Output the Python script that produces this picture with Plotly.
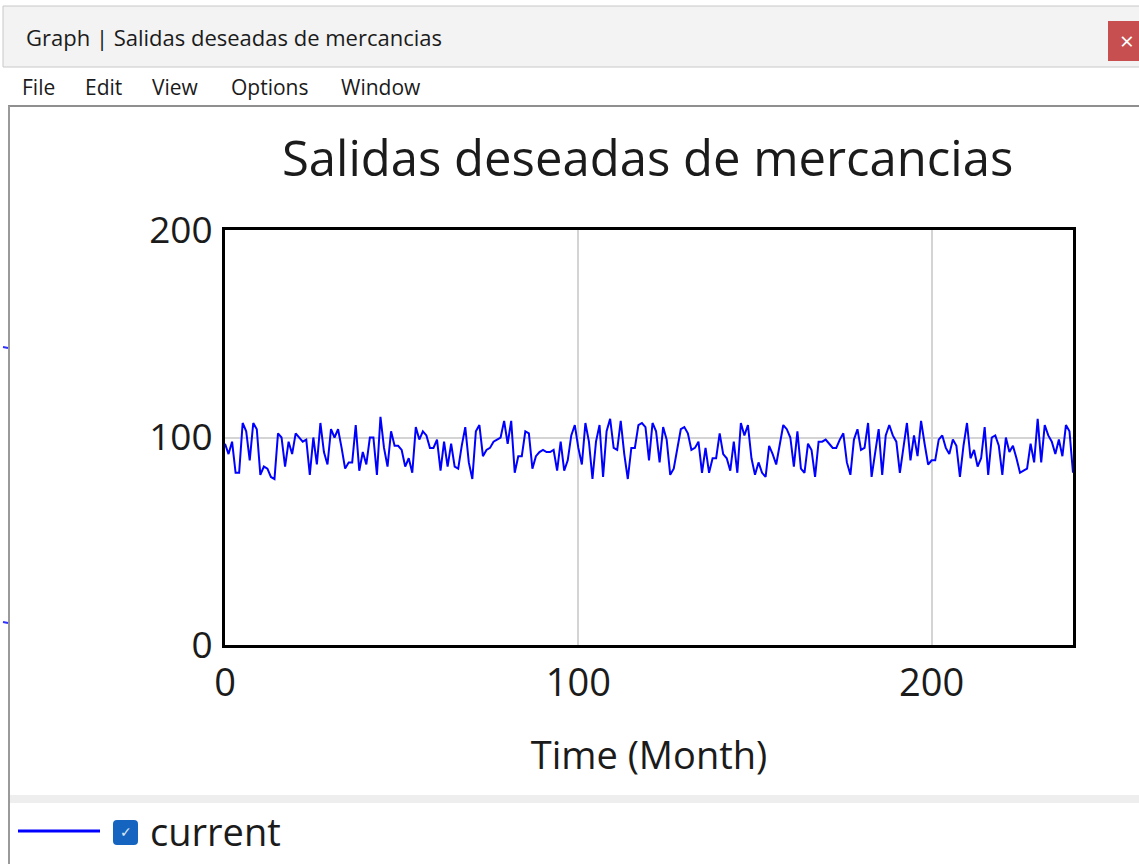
import plotly.graph_objects as go

# Monthly values of "Salidas deseadas de mercancias", months 0..240
months = list(range(0, 241))
salidas = [
    97, 92, 98, 83, 83, 107, 103, 89, 107, 104,
    82, 86, 85, 81, 80, 102, 100, 86, 98, 92,
    102, 100, 98, 99, 82, 100, 87, 107, 93, 87,
    104, 100, 104, 95, 85, 88, 88, 106, 84, 93,
    87, 100, 100, 82, 110, 95, 86, 103, 96, 96,
    94, 86, 90, 83, 105, 99, 103, 101, 95, 95,
    99, 84, 98, 86, 97, 86, 85, 96, 105, 88,
    80, 103, 106, 91, 94, 95, 98, 99, 100, 108,
    97, 108, 83, 91, 91, 103, 102, 85, 91, 93,
    94, 93, 93, 94, 84, 98, 84, 89, 101, 106,
    95, 87, 107, 98, 80, 98, 106, 81, 103, 109,
    95, 94, 108, 92, 80, 95, 95, 106, 107, 105,
    89, 107, 103, 88, 105, 99, 82, 85, 95, 104,
    105, 102, 94, 95, 98, 83, 95, 83, 90, 90,
    102, 92, 90, 84, 98, 83, 107, 101, 106, 90,
    82, 88, 83, 81, 96, 92, 87, 97, 106, 104,
    100, 86, 103, 85, 83, 97, 94, 81, 98, 98,
    99, 97, 95, 95, 99, 102, 88, 82, 99, 104,
    94, 95, 107, 81, 92, 104, 82, 101, 106, 101,
    98, 83, 95, 107, 89, 101, 91, 108, 97, 87,
    89, 89, 99, 101, 95, 92, 99, 96, 81, 96,
    107, 90, 94, 86, 90, 105, 82, 100, 101, 96,
    82, 100, 93, 96, 90, 83, 84, 85, 97, 88,
    109, 88, 106, 101, 98, 92, 99, 91, 106, 103,
    83,
]
x_ticks = [0, 100, 200]
y_ticks = [0, 100, 200]
series_name = "current"
chart_title = "Salidas deseadas de mercancias"
window_title = "Graph | Salidas deseadas de mercancias"
menu_items = ["File", "Edit", "View", "Options", "Window"]
menu_x = [22, 85, 152, 231, 341]

W, H = 1139, 864
L, R, T, B = 225, 1073, 230, 645
FONT = "Open Sans"


def px(x):
    return (x - L) / (R - L)


def py(y):
    return 1 - (y - T) / (B - T)


fig = go.Figure()
fig.add_trace(go.Scatter(
    x=months, y=salidas, mode="lines",
    line=dict(color="#0000ff", width=2),
    name=series_name, showlegend=False, hoverinfo="skip",
))

shapes = []
annotations = []

# window title bar
shapes.append(dict(type="rect", xref="paper", yref="paper",
                   x0=px(3), x1=px(1145), y0=py(6), y1=py(67),
                   fillcolor="#f3f3f3", line=dict(color="#c8c8c8", width=1), layer="below"))
# close button
shapes.append(dict(type="rect", xref="paper", yref="paper",
                   x0=px(1108), x1=px(1145), y0=py(21), y1=py(61),
                   fillcolor="#c84f4f", line=dict(width=0), layer="below"))
annotations.append(dict(x=px(1127), y=py(41), xref="paper", yref="paper",
                        text="×", showarrow=False, xanchor="center", yanchor="middle",
                        font=dict(family=FONT, size=24, color="white")))
annotations.append(dict(x=px(24), y=py(37), xref="paper", yref="paper",
                        text=window_title, showarrow=False, xanchor="left", yanchor="middle",
                        font=dict(family=FONT, size=22, color="#1b1b1b")))
# menu bar
for label, mx in zip(menu_items, menu_x):
    annotations.append(dict(x=px(mx - 2), y=py(87), xref="paper", yref="paper",
                            text=label, showarrow=False, xanchor="left", yanchor="middle",
                            font=dict(family=FONT, size=21, color="#1b1b1b")))
# frame of the client area
shapes.append(dict(type="line", xref="paper", yref="paper",
                   x0=px(8), x1=px(1145), y0=py(106), y1=py(106),
                   line=dict(color="#8f8f8f", width=2)))
shapes.append(dict(type="line", xref="paper", yref="paper",
                   x0=px(9), x1=px(9), y0=py(106), y1=py(870),
                   line=dict(color="#9a9a9a", width=2)))
# small marks left of the frame
for my in (347, 622):
    shapes.append(dict(type="line", xref="paper", yref="paper",
                       x0=px(3), x1=px(8), y0=py(my), y1=py(my + 1),
                       line=dict(color="#3030ff", width=2)))

# legend strip
shapes.append(dict(type="rect", xref="paper", yref="paper",
                   x0=px(10), x1=px(1145), y0=py(795), y1=py(803),
                   fillcolor="#eeeeee", line=dict(width=0), layer="below"))
shapes.append(dict(type="line", xref="paper", yref="paper",
                   x0=px(18), x1=px(100), y0=py(831), y1=py(831),
                   line=dict(color="#0000ff", width=3)))
shapes.append(dict(type="path", xref="paper", yref="paper",
                   path=(f"M {px(117)},{py(820)} L {px(134)},{py(820)} "
                         f"Q {px(138)},{py(820)} {px(138)},{py(824)} L {px(138)},{py(841)} "
                         f"Q {px(138)},{py(845)} {px(134)},{py(845)} L {px(117)},{py(845)} "
                         f"Q {px(113)},{py(845)} {px(113)},{py(841)} L {px(113)},{py(824)} "
                         f"Q {px(113)},{py(820)} {px(117)},{py(820)} Z"),
                   fillcolor="#1565c0", line=dict(width=0)))
annotations.append(dict(x=px(125.5), y=py(832), xref="paper", yref="paper",
                        text="✓", showarrow=False, xanchor="center", yanchor="middle",
                        font=dict(family="DejaVu Sans", size=14, color="#dfe8f5")))
annotations.append(dict(x=px(148), y=py(831), xref="paper", yref="paper",
                        text=series_name, showarrow=False, xanchor="left", yanchor="middle",
                        font=dict(family=FONT, size=38, color="#1b1b1b")))

# chart title
annotations.append(dict(x=px(647), y=py(157), xref="paper", yref="paper",
                        text=chart_title, showarrow=False, xanchor="center", yanchor="middle",
                        font=dict(family=FONT, size=49, color="#1b1b1b")))

fig.update_layout(
    width=W, height=H,
    margin=dict(l=L, r=W - R, t=T, b=H - B, pad=0),
    paper_bgcolor="white", plot_bgcolor="white",
    shapes=shapes, annotations=annotations,
    font=dict(family=FONT, color="#1b1b1b"),
    xaxis=dict(
        range=[0, 240], tickvals=x_ticks, ticktext=[str(v) for v in x_ticks],
        showgrid=True, gridcolor="#d4d4d4", gridwidth=2,
        showline=True, linecolor="black", linewidth=3, mirror=True,
        ticks="", tickfont=dict(size=38, family=FONT, color="#1b1b1b"),
        ticklabelstandoff=2,
        title=dict(text="Time (Month)", font=dict(size=38, family=FONT, color="#1b1b1b"), standoff=37),
        zeroline=False, fixedrange=True,
    ),
    yaxis=dict(
        range=[0, 200], tickvals=y_ticks, ticktext=[str(v) for v in y_ticks],
        showgrid=True, gridcolor="#d4d4d4", gridwidth=2,
        showline=True, linecolor="black", linewidth=3, mirror=True,
        ticks="", tickfont=dict(size=37, family=FONT, color="#1b1b1b"),
        ticklabelstandoff=2,
        zeroline=False, fixedrange=True,
    ),
)

fig.write_html("out.html", config={"displayModeBar": False})
